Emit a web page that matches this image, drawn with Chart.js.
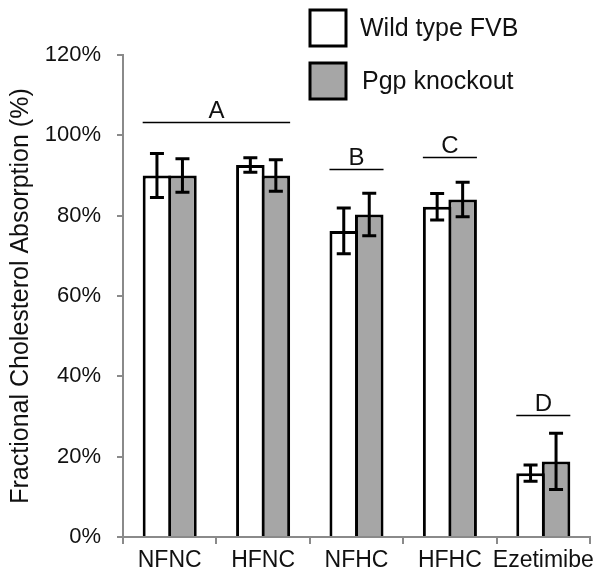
<!DOCTYPE html>
<html>
<head>
<meta charset="utf-8">
<script src="https://cdn.jsdelivr.net/npm/chart.js@4"></script>
<style>
html,body{margin:0;padding:0;background:#fff;}
#wrap{width:606px;height:577px;}
</style>
</head>
<body>
<div id="wrap"><canvas id="c" width="606" height="577"></canvas></div>
<script>
const categories = ['NFNC', 'HFNC', 'NFHC', 'HFHC', 'Ezetimibe'];
const seriesNames = ['Wild type FVB', 'Pgp knockout'];
const wildValues = [90.0, 92.6, 76.2, 82.2, 15.9];
const wildErrors = [5.5, 1.8, 5.7, 3.3, 2.0];
const pgpValues = [90.0, 90.0, 80.3, 84.0, 18.8];
const pgpErrors = [4.2, 3.9, 5.3, 4.3, 7.0];
const yTicks = [0, 20, 40, 60, 80, 100, 120];
const sigLabels = ['A', 'B', 'C', 'D'];
const sigLevels = [103.2, 91.7, 94.5, 30.3];
const sigFrom = [0, 2, 3, 4];
const sigTo = [1, 2, 3, 4];

const FONT = "'Liberation Sans', Arial, sans-serif";
const errorsByDataset = [wildErrors, pgpErrors];

const errorBarPlugin = {
  id: 'errorBars',
  afterDatasetsDraw(chart) {
    const ctx = chart.ctx;
    const y = chart.scales.y;
    ctx.save();
    ctx.strokeStyle = '#000';
    ctx.lineWidth = 3;
    chart.data.datasets.forEach((ds, di) => {
      const meta = chart.getDatasetMeta(di);
      meta.data.forEach((bar, i) => {
        const v = ds.data[i], e = errorsByDataset[di][i];
        const yt = y.getPixelForValue(v + e), yb = y.getPixelForValue(v - e);
        const cap = 7;
        ctx.beginPath();
        ctx.moveTo(bar.x, yt); ctx.lineTo(bar.x, yb);
        ctx.moveTo(bar.x - cap, yt); ctx.lineTo(bar.x + cap, yt);
        ctx.moveTo(bar.x - cap, yb); ctx.lineTo(bar.x + cap, yb);
        ctx.stroke();
      });
    });
    const m0 = chart.getDatasetMeta(0), m1 = chart.getDatasetMeta(1);
    ctx.lineWidth = 1.6;
    ctx.fillStyle = '#111';
    ctx.font = '24px ' + FONT;
    ctx.textAlign = 'center';
    ctx.textBaseline = 'alphabetic';
    sigLabels.forEach((lab, k) => {
      const b0 = m0.data[sigFrom[k]], b1 = m1.data[sigTo[k]];
      const x0 = b0.x - b0.width / 2, x1 = b1.x + b1.width / 2;
      const py = Math.round(y.getPixelForValue(sigLevels[k])) + 0.5;
      ctx.beginPath();
      ctx.moveTo(x0, py); ctx.lineTo(x1, py);
      ctx.stroke();
      ctx.fillText(lab, (x0 + x1) / 2, py - 5);
    });
    ctx.restore();
  }
};

const legendPlugin = {
  id: 'boxLegend',
  afterDraw(chart) {
    const ctx = chart.ctx;
    ctx.save();
    const bx = 310, by = [10, 63], size = 36;
    chart.data.datasets.forEach((ds, i) => {
      ctx.fillStyle = ds.backgroundColor;
      ctx.fillRect(bx, by[i], size, size);
      ctx.lineWidth = 3;
      ctx.strokeStyle = '#000';
      ctx.strokeRect(bx, by[i], size, size);
      ctx.fillStyle = '#111';
      ctx.font = '25px ' + FONT;
      ctx.textAlign = 'left';
      ctx.textBaseline = 'middle';
      ctx.fillText(ds.label, 360 + (i === 1 ? 2 : 0), by[i] + size / 2 + 1);
    });
    ctx.restore();
  }
};

new Chart(document.getElementById('c'), {
  type: 'bar',
  data: {
    labels: categories,
    datasets: [
      { label: seriesNames[0], data: wildValues, backgroundColor: '#ffffff', borderColor: '#000', borderWidth: 3, borderSkipped: 'bottom' },
      { label: seriesNames[1], data: pgpValues, backgroundColor: '#a6a6a6', borderColor: '#000', borderWidth: 3, borderSkipped: 'bottom' }
    ]
  },
  options: {
    responsive: false,
    animation: false,
    devicePixelRatio: 1,
    layout: { padding: { left: 0, top: 55, right: 16, bottom: 0 } },
    datasets: { bar: { barPercentage: 1.12, categoryPercentage: 0.546 } },
    plugins: { legend: { display: false }, tooltip: { enabled: false } },
    scales: {
      x: {
        grid: { display: true, drawOnChartArea: false, drawTicks: true, tickLength: 7, color: '#8a8a8a', lineWidth: 2, offset: true },
        border: { display: true, color: '#8a8a8a', width: 2 },
        ticks: { color: '#111', font: { family: FONT, size: 23 }, padding: 3, maxRotation: 0, autoSkip: false },
        afterFit(s) { s.height = 40; }
      },
      y: {
        min: 0, max: 120,
        afterBuildTicks(s) { s.ticks = yTicks.map(v => ({ value: v })); },
        grid: { display: true, drawOnChartArea: false, drawTicks: true, tickLength: 6, color: '#8a8a8a', lineWidth: 2 },
        border: { display: true, color: '#8a8a8a', width: 2 },
        ticks: { color: '#111', font: { family: FONT, size: 22 }, padding: 16, callback: v => v + '%' },
        title: { display: true, text: 'Fractional Cholesterol Absorption (%)', color: '#111', font: { family: FONT, size: 25 }, padding: { top: 6, bottom: 0 } },
        afterFit(s) { s.width = 123; }
      }
    }
  },
  plugins: [errorBarPlugin, legendPlugin]
});
</script>
</body>
</html>
